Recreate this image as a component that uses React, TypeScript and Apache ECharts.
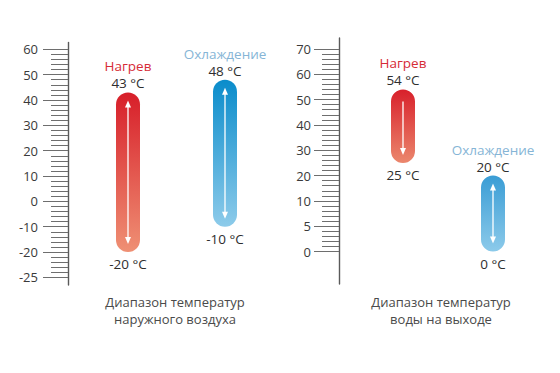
import React, { useEffect, useRef } from "react";
import * as echarts from "echarts";

// ---- data ----
const outdoorTicks = [60, 50, 40, 30, 20, 10, 0, -10, -20, -25];
const waterTicks = [70, 60, 50, 40, 30, 20, 10, 5, 0];
const modes = ["Нагрев", "Охлаждение"];
const outdoorHigh = [43, 48];
const outdoorLow = [-20, -10];
const waterHigh = [54, 20];
const waterLow = [25, 0];
const outdoorArrows = ["both", "both"];
const waterArrows = ["down", "both"];
const outdoorCaption = ["Диапазон температур", "наружного воздуха"];
const waterCaption = ["Диапазон температур", "воды на выходе"];

// ---- styles ----
const FONT = '"Open Sans", "Noto Sans", sans-serif';
const modeColors = ["#d62b36", "#86b5d6"];
const outdoorGrad = [
  ["#d71e29", "#ef9074"],
  ["#0a8ccb", "#8dcbea"],
];
const waterGrad = [
  ["#d8202b", "#eb876d"],
  ["#3a9dd5", "#8ccaea"],
];

// map a temperature to tick-index space (ticks are evenly spaced on screen)
function toIdx(v: number, ticks: number[]): number {
  const asc = [...ticks].reverse();
  for (let i = 0; i < asc.length - 1; i++) {
    if (v >= asc[i] && v <= asc[i + 1]) {
      return i + (v - asc[i]) / (asc[i + 1] - asc[i]);
    }
  }
  return v < asc[0] ? 0 : asc.length - 1;
}

function minorPositions(n: number): number[] {
  const out: number[] = [];
  for (let i = 0; i < n - 1; i++) for (let k = 1; k <= 4; k++) out.push(i + k * 0.2);
  return out;
}

function makeYAxes(ticks: number[], grid: number, min: number, max: number, offset: number, margin: number) {
  const asc = [...ticks].reverse();
  const majors = asc.map((_, i) => i);
  return [
    {
      type: "value",
      gridIndex: grid,
      position: "left",
      min,
      max,
      offset,
      axisLine: { show: true, lineStyle: { color: "#5a5a5a", width: 1.4 } },
      axisTick: { show: true, customValues: majors, length: 25, lineStyle: { color: "#6e6e6e", width: 1 } },
      axisLabel: {
        show: true,
        customValues: majors,
        margin,
        formatter: (v: number) => String(asc[Math.round(v)]),
        color: "#3a3a3a",
        fontSize: 13,
        fontFamily: FONT,
      },
      splitLine: { show: false },
    },
    {
      type: "value",
      gridIndex: grid,
      position: "left",
      min,
      max,
      offset,
      axisLine: { show: false },
      axisTick: { show: true, customValues: minorPositions(asc.length), length: 17, lineStyle: { color: "#6e6e6e", width: 1 } },
      axisLabel: { show: false },
      splitLine: { show: false },
    },
  ];
}

function makeRender(grads: string[][], arrows: string[]) {
  return (params: any, api: any) => {
    const i = params.dataIndex;
    const x = api.value(0);
    const lo = api.coord([x, api.value(1)]);
    const hi = api.coord([x, api.value(2)]);
    const cx = lo[0];
    const yTop = hi[1];
    const yBot = lo[1];
    const w = 24;
    const grad = new echarts.graphic.LinearGradient(0, 0, 0, 1, [
      { offset: 0, color: grads[i][0] },
      { offset: 1, color: grads[i][1] },
    ]);
    const children: any[] = [
      {
        type: "rect",
        shape: { x: cx - w / 2, y: yTop, width: w, height: yBot - yTop, r: w / 2 },
        style: { fill: grad },
      },
    ];
    const mode = arrows[i];
    const tipTop = yTop + 8;
    const tipBot = yBot - 8;
    const shaftTop = mode === "both" ? tipTop + 4 : yTop + 12;
    children.push({
      type: "line",
      shape: { x1: cx, y1: shaftTop, x2: cx, y2: tipBot - 4 },
      style: { stroke: "#ffffff", lineWidth: 1.3 },
    });
    children.push({
      type: "polygon",
      shape: { points: [[cx, tipBot], [cx - 3, tipBot - 7], [cx + 3, tipBot - 7]] },
      style: { fill: "#ffffff" },
    });
    if (mode === "both") {
      children.push({
        type: "polygon",
        shape: { points: [[cx, tipTop], [cx - 3, tipTop + 7], [cx + 3, tipTop + 7]] },
        style: { fill: "#ffffff" },
      });
    }
    const txt = (text: string, y: number, fill: string) => ({
      type: "text",
      x: cx,
      y,
      style: { text, fill, font: `13.5px ${FONT}`, align: "center", verticalAlign: "middle" },
    });
    children.push(txt(`${api.value(4)} °C`, yTop - 9, "#2e2e2e"));
    children.push(txt(modes[i], yTop - 26, modeColors[i]));
    children.push(txt(`${api.value(3)} °C`, yBot + 12, "#2e2e2e"));
    return { type: "group", children };
  };
}

export default function App() {
  const ref = useRef<HTMLDivElement>(null);
  useEffect(() => {
    document.body.style.margin = "0";
    if (!ref.current) return;
    const chart = echarts.init(ref.current, undefined, { renderer: "svg" });

    const outdoorData = modes.map((_, i) => [
      i,
      toIdx(outdoorLow[i], outdoorTicks),
      toIdx(outdoorHigh[i], outdoorTicks),
      outdoorLow[i],
      outdoorHigh[i],
    ]);
    const waterData = modes.map((_, i) => [
      i,
      toIdx(waterLow[i], waterTicks),
      toIdx(waterHigh[i], waterTicks),
      waterLow[i],
      waterHigh[i],
    ]);

    const caption = (lines: string[], x: number) =>
      lines.map((line, k) => ({
        type: "text",
        x,
        y: 302 + k * 17,
        style: {
          text: line,
          fill: "#4a4a4a",
          font: `13px ${FONT}`,
          align: "center",
          verticalAlign: "middle",
        },
      }));

    chart.setOption({
      animation: false,
      backgroundColor: "#ffffff",
      grid: [
        { left: 79.5, width: 194, top: 42.5, height: 242.5 },
        { left: 358, width: 180, top: 38, height: 246 },
      ],
      xAxis: [
        { type: "category", gridIndex: 0, data: modes, show: false },
        { type: "category", gridIndex: 1, data: modes, show: false },
      ],
      yAxis: [
        ...makeYAxes(outdoorTicks, 0, -0.3, 9.27, 11.5, 30),
        ...makeYAxes(waterTicks, 1, -1.28, 8.43, 19, 28),
      ],
      series: [
        {
          type: "custom",
          xAxisIndex: 0,
          yAxisIndex: 0,
          clip: false,
          encode: { x: 0, y: [1, 2] },
          renderItem: makeRender(outdoorGrad, outdoorArrows),
          data: outdoorData,
        },
        {
          type: "custom",
          xAxisIndex: 1,
          yAxisIndex: 2,
          clip: false,
          encode: { x: 0, y: [1, 2] },
          renderItem: makeRender(waterGrad, waterArrows),
          data: waterData,
        },
      ],
      graphic: [...caption(outdoorCaption, 175), ...caption(waterCaption, 441)],
    });
    return () => chart.dispose();
  }, []);
  return <div ref={ref} style={{ width: 560, height: 373 }} />;
}
